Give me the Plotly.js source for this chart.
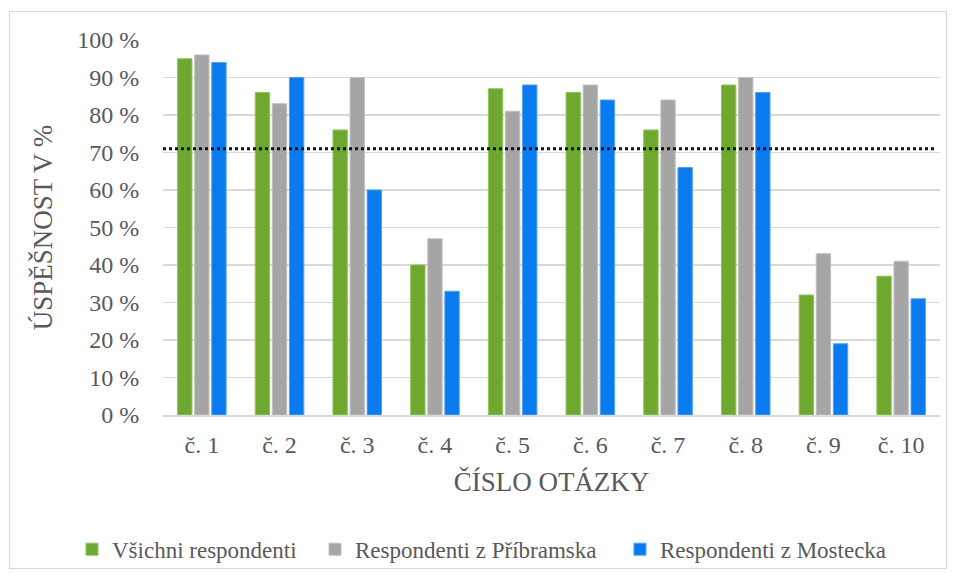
<!DOCTYPE html>
<html>
<head>
<meta charset="utf-8">
<script src="https://cdn.plot.ly/plotly-3.0.1.min.js"></script>
<style>
html,body{margin:0;padding:0;background:#fff;}
#wrap{position:relative;width:956px;height:580px;}
#chart{width:956px;height:580px;}
#frame{position:absolute;left:9px;top:11px;width:936px;height:556px;border:1px solid #d9d9d9;pointer-events:none;}
</style>
</head>
<body>
<div id="wrap"><div id="chart"></div><div id="frame"></div></div>
<script>
const categories = ['č. 1','č. 2','č. 3','č. 4','č. 5','č. 6','č. 7','č. 8','č. 9','č. 10'];
const seriesNames = ['Všichni respondenti','Respondenti z Příbramska','Respondenti z Mostecka'];
const allResp = [95, 86, 76, 40, 87, 86, 76, 88, 32, 37];
const pribram = [96, 83, 90, 47, 81, 88, 84, 90, 43, 41];
const most = [94, 90, 60, 33, 88, 84, 66, 86, 19, 31];
const threshold = 71;
const colors = ['#6EA82F', '#A5A5A5', '#0A7BEF'];
const lineColors = ['#8CC45A', '#C0C0C0', '#4FA0F5'];

const legendIds = ['legend', 'legend2', 'legend3'];
const series = [allResp, pribram, most];
const traces = series.map((vals, i) => ({
  type: 'bar',
  name: seriesNames[i],
  x: categories,
  y: vals,
  legend: legendIds[i],
  showlegend: true,
  marker: {color: colors[i], line: {color: lineColors[i], width: 1}},
  hoverinfo: 'x+y'
}));

const font = 'Liberation Serif';
const legendX = [0.0753, 0.3295, 0.6485];
const legendBase = (x) => ({
  orientation: 'h', xref: 'container', yref: 'container',
  x: x, xanchor: 'left', y: 0.053, yanchor: 'middle',
  font: {family: font, size: 23, color: '#595959'},
  itemwidth: 30, bgcolor: 'rgba(0,0,0,0)'
});

const layout = {
  width: 956, height: 580,
  showlegend: true,
  margin: {l: 163, r: 16, t: 40, b: 165, autoexpand: false},
  paper_bgcolor: '#fff', plot_bgcolor: '#fff',
  barmode: 'group', bargap: 0.34, bargroupgap: 0.16,
  font: {family: font, color: '#595959'},
  xaxis: {
    type: 'category',
    tickfont: {family: font, size: 24, color: '#595959'},
    ticks: 'outside', ticklen: 8, tickcolor: 'rgba(0,0,0,0)',
    showline: true, linecolor: '#d9d9d9', linewidth: 1.5,
    title: {text: 'ČÍSLO OTÁZKY', font: {family: font, size: 27, color: '#595959'}, standoff: 15}
  },
  yaxis: {
    range: [0, 100], dtick: 10, ticksuffix: ' %',
    tickfont: {family: font, size: 24, color: '#595959'},
    ticks: 'outside', ticklen: 18, tickcolor: 'rgba(0,0,0,0)',
    gridcolor: '#d9d9d9', gridwidth: 1.5, zeroline: false,
    title: {text: 'ÚSPĚŠNOST V %', font: {family: font, size: 27, color: '#595959'}, standoff: 16}
  },
  legend: legendBase(legendX[0]),
  legend2: legendBase(legendX[1]),
  legend3: legendBase(legendX[2]),
  shapes: [{
    type: 'line', xref: 'paper', yref: 'y',
    x0: 0, x1: 0.995, y0: threshold, y1: threshold,
    line: {color: '#111', width: 3, dash: 'dot'}
  }]
};

Plotly.newPlot('chart', traces, layout, {displayModeBar: false, staticPlot: true});
</script>
</body>
</html>
